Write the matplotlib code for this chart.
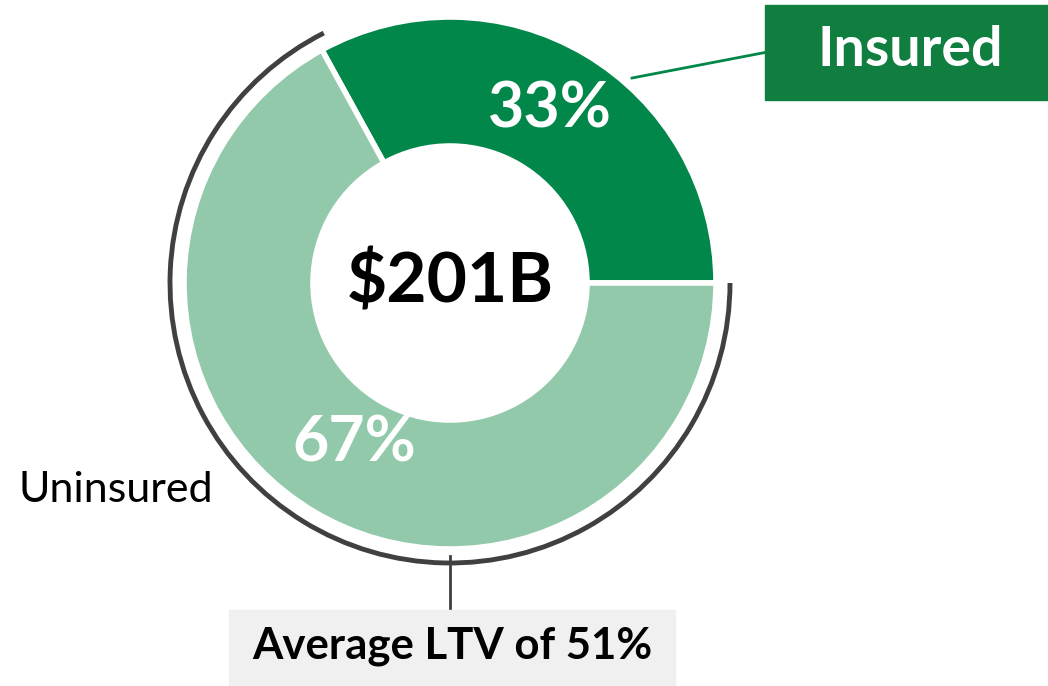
import matplotlib.pyplot as plt
from matplotlib.patches import Arc, Rectangle
import numpy as np

plt.rcParams['font.family'] = ['Lato', 'DejaVu Sans']

# data
labels = ['Insured', 'Uninsured']
shares = [33, 67]
total_label = '$201B'
ltv_label = 'Average LTV of 51%'

dark_green = '#02874a'
light_green = '#91c9aa'
box_green = '#0f7e3e'

W, H = 1048, 686
fig = plt.figure(figsize=(W / 100, H / 100), dpi=100)
ax = fig.add_axes([0, 0, 1, 1])
ax.set_xlim(0, W)
ax.set_ylim(0, H)
ax.set_aspect('equal')
ax.axis('off')

cx, cy = 450, H - 283
r_out, r_in = 266, 137

wedges, _ = ax.pie(shares, colors=[dark_green, light_green], startangle=0,
                   counterclock=True, radius=r_out, center=(cx, cy),
                   wedgeprops=dict(width=r_out - r_in, edgecolor='white', linewidth=4))
ax.set_xlim(0, W)
ax.set_ylim(0, H)

# outer arc around the uninsured share
start = shares[0] / sum(shares) * 360 - 2
ax.add_patch(Arc((cx, cy), 2 * 280, 2 * 280, theta1=start, theta2=360,
                 color='#404040', lw=3.5))

# percentage labels
ax.text(550, H - 110, f'{shares[0]}%', color='white', fontsize=45, fontweight='bold',
        ha='center', va='center')
ax.text(354, H - 443, f'{shares[1]}%', color='white', fontsize=45, fontweight='bold',
        ha='center', va='center')
ax.text(cx, cy, total_label, color='black', fontsize=50, fontweight='bold',
        ha='center', va='center')

# insured callout
ax.plot([632, 778], [H - 78, H - 50], color=dark_green, lw=2)
ax.add_patch(Rectangle((765, H - 100), W - 765, 95, color=box_green, zorder=3))
ax.text(910, H - 50, labels[0], color='white', fontsize=40,
        fontweight='bold', ha='center', va='center', zorder=4)

# uninsured label
ax.text(18, H - 490, labels[1], color='black', fontsize=31, ha='left', va='center')

# LTV callout
ax.plot([cx, cx], [H - 556, H - 612], color='#404040', lw=2)
ax.add_patch(Rectangle((229, 0), 675 - 229, H - 610, color='#f0f0f0', zorder=3))
ax.text(452, H - 646, ltv_label, color='black', fontsize=31.5,
        fontweight='bold', ha='center', va='center', zorder=4)

fig.savefig('out.png', dpi=100)
